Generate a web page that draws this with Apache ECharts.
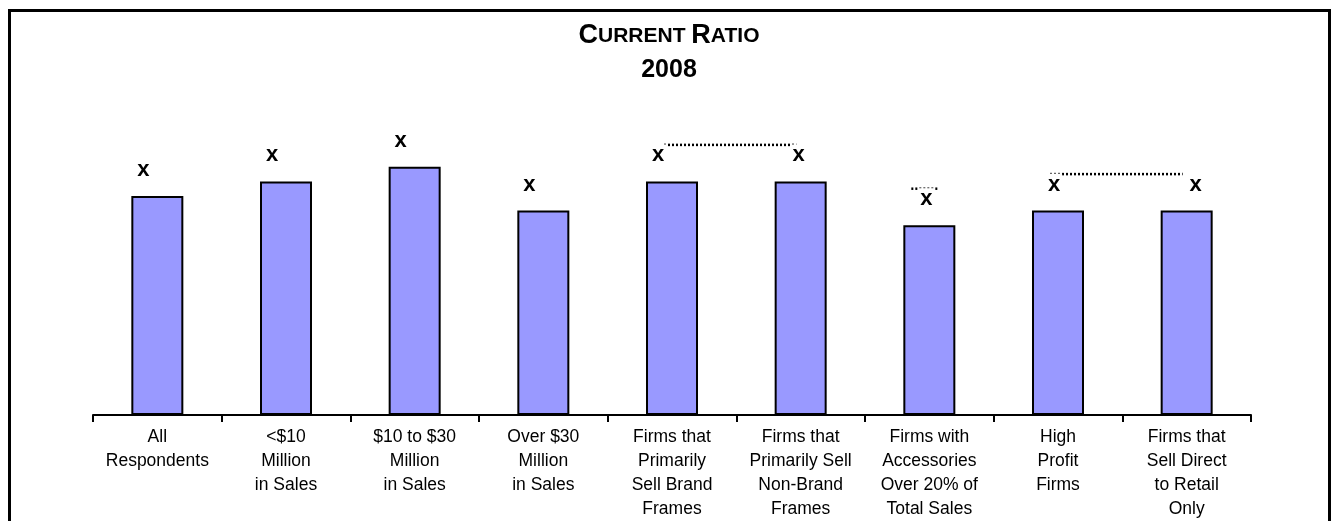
<!DOCTYPE html>
<html>
<head>
<meta charset="utf-8">
<script src="https://cdn.jsdelivr.net/npm/echarts@6/dist/echarts.min.js"></script>
<style>
html,body{margin:0;padding:0;background:#fff;}
#frame{position:absolute;left:8px;top:9px;width:1323px;height:560px;border:3px solid #000;box-sizing:border-box;}
#chart{position:absolute;left:0;top:0;width:1338px;height:521px;}
</style>
</head>
<body>
<div id="frame"></div>
<div id="chart"></div>
<script>
// ---- data ----
var categories = [
  "All\nRespondents",
  "<$10\nMillion\nin Sales",
  "$10 to $30\nMillion\nin Sales",
  "Over $30\nMillion\nin Sales",
  "Firms that\nPrimarily\nSell Brand\nFrames",
  "Firms that\nPrimarily Sell\nNon-Brand\nFrames",
  "Firms with\nAccessories\nOver 20% of\nTotal Sales",
  "High\nProfit\nFirms",
  "Firms that\nSell Direct\nto Retail\nOnly"
];
var currentRatio = [1.5, 1.6, 1.7, 1.4, 1.6, 1.6, 1.3, 1.4, 1.4];
var valueLabels = ["x", "x", "x", "x", "x", "x", "x", "x", "x"];
// dotted connectors: [startCategory, endCategory, level]
var connectors = [[4, 5, 1.85], [6, 6, 1.55], [7, 8, 1.65]];

// ---- styling helpers (not data) ----
var labelShift = [-14, -14, -14, -14, -14, -2, -3, -4, 9];
var NARROW = '"Liberation Sans Narrow","Arial Narrow","Liberation Sans",Arial,sans-serif';

var chart = echarts.init(document.getElementById('chart'), null, {renderer: 'canvas'});

var barData = currentRatio.map(function (v, i) {
  return {
    value: v,
    label: {offset: [labelShift[i], 0]}
  };
});

chart.setOption({
  animation: false,
  backgroundColor: 'transparent',
  title: {
    left: 'center',
    top: 14,
    text: '{big|C}{small|URRENT }{big|R}{small|ATIO}\n{yr|2008}',
    textStyle: {
      rich: {
        big: {fontFamily: NARROW, fontSize: 27, fontWeight: 'bold', color: '#000', lineHeight: 34},
        small: {fontFamily: NARROW, fontSize: 21, fontWeight: 'bold', color: '#000', lineHeight: 34},
        yr: {fontFamily: NARROW, fontSize: 25, fontWeight: 'bold', color: '#000', lineHeight: 34, align: 'center'}
      }
    }
  },
  grid: {left: 93, right: 87, top: 123, bottom: 106, containLabel: false},
  xAxis: {
    type: 'category',
    data: categories,
    axisLine: {lineStyle: {color: '#000', width: 2}},
    axisTick: {show: true, length: 7, lineStyle: {color: '#000', width: 2}},
    axisLabel: {
      interval: 0,
      margin: 10,
      color: '#000',
      fontFamily: NARROW,
      fontSize: 17.5,
      lineHeight: 24
    }
  },
  yAxis: {
    type: 'value',
    min: 0,
    max: 2,
    show: false,
    splitLine: {show: false}
  },
  series: [
    {
      type: 'custom',
      z: 1,
      data: connectors,
      renderItem: function (params, api) {
        var s = api.value(0), e = api.value(1), lv = api.value(2);
        var p0 = api.coord([s, lv]);
        var p1 = api.coord([e, lv]);
        var x0, x1;
        if (s === e) { x0 = p0[0] - 18; x1 = p0[0] + 10; }
        else { x0 = p0[0] - 8; x1 = p1[0] - 4; }
        return {
          type: 'line',
          shape: {x1: x0, y1: p0[1], x2: x1, y2: p1[1]},
          style: {stroke: '#000', lineWidth: 2.5, lineDash: [2, 2]}
        };
      }
    },
    {
      type: 'bar',
      z: 2,
      data: barData,
      barWidth: 52,
      itemStyle: {color: '#9999FF', borderColor: '#000', borderWidth: 2},
      label: {
        show: true,
        position: 'top',
        distance: 15,
        formatter: function (p) { return valueLabels[p.dataIndex]; },
        fontFamily: 'Arial, "Liberation Sans", sans-serif',
        fontWeight: 'bold',
        fontSize: 22,
        color: '#000',
        backgroundColor: '#fff',
        padding: [0, 2]
      }
    }
  ]
});
</script>
</body>
</html>
